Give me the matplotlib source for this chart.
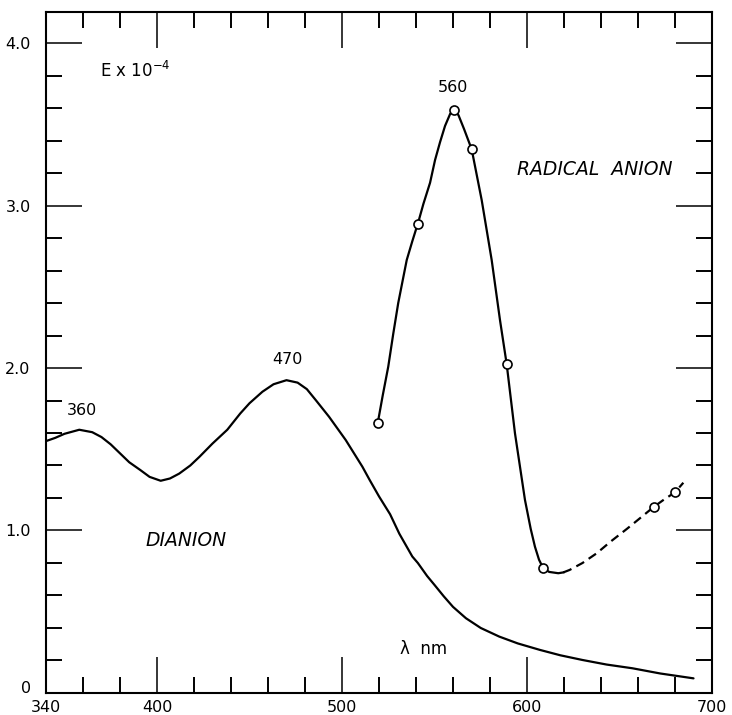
import matplotlib
matplotlib.use("Agg")
import matplotlib.pyplot as plt
from matplotlib.ticker import MultipleLocator, FixedLocator
import matplotlib.transforms as mtransforms

# --- data ---
dianion_nm = [340, 345, 350, 358, 365, 370, 375, 380, 385, 391, 396, 402, 407, 412,
              418, 423, 430, 438, 445, 450, 457, 463, 470, 476, 481, 486, 493, 502,
              511, 515, 520, 526, 531, 538, 541, 546, 550, 555, 560, 567, 575, 585,
              595, 607, 618, 630, 643, 657, 672, 690]
dianion_E = [1.55, 1.57, 1.595, 1.62, 1.605, 1.575, 1.53, 1.475, 1.42, 1.372, 1.33,
             1.306, 1.32, 1.35, 1.40, 1.454, 1.535, 1.62, 1.72, 1.783, 1.854, 1.90,
             1.925, 1.91, 1.87, 1.80, 1.70, 1.557, 1.393, 1.31, 1.21, 1.10, 0.98,
             0.84, 0.80, 0.72, 0.665, 0.595, 0.53, 0.46, 0.40, 0.347, 0.305, 0.265,
             0.232, 0.203, 0.175, 0.152, 0.12, 0.09]

radical_nm = [519.3, 522, 525, 527.7, 530.4, 533, 535, 538, 541.3, 544, 547.6, 550.3,
              553, 555.7, 558.5, 560.8, 563, 566, 570.1, 575.5, 580.9, 585.4, 589,
              593.5, 598.9, 602, 604.3, 606.5, 608.8, 612, 616.9, 619.6]
radical_E = [1.66, 1.83, 2.008, 2.21, 2.40, 2.55, 2.665, 2.78, 2.90, 3.01, 3.14, 3.28,
             3.39, 3.49, 3.565, 3.59, 3.555, 3.47, 3.346, 3.034, 2.665, 2.295, 2.025,
             1.598, 1.188, 1.01, 0.90, 0.82, 0.767, 0.745, 0.737, 0.742]

dashed_nm = [619.6, 623, 630, 637.7, 645, 654, 661, 668.6, 674, 680, 684.5]
dashed_E = [0.742, 0.757, 0.80, 0.86, 0.93, 1.01, 1.075, 1.146, 1.19, 1.235, 1.294]

points_nm = [519.3, 541.3, 560.8, 570.1, 589.0, 608.8, 668.6, 680]
points_E = [1.66, 2.884, 3.59, 3.346, 2.025, 0.767, 1.146, 1.235]

x_ticks = [340, 400, 500, 600, 700]
x_ticklabels = ["340", "400", "500", "600", "700"]
y_ticks = [0, 1, 2, 3, 4]
y_ticklabels = ["0", "1.0", "2.0", "3.0", "4.0"]

# --- figure ---
fig = plt.figure(figsize=(7.32, 7.15), dpi=100)
ax = fig.add_axes([0.0628, 0.0308, 0.9099, 0.9522])

ax.plot(dianion_nm, dianion_E, color="black", lw=1.6, solid_capstyle="round",
        solid_joinstyle="round")
ax.plot(radical_nm, radical_E, color="black", lw=1.6, solid_joinstyle="round")
ax.plot(dashed_nm, dashed_E, color="black", lw=1.6, dashes=(4, 2.5))
ax.plot(points_nm, points_E, linestyle="none", marker="o", ms=6.5,
        mfc="white", mec="black", mew=1.2, zorder=5)

ax.set_xlim(340, 700)
ax.set_ylim(0, 4.19)

ax.xaxis.set_major_locator(FixedLocator(x_ticks))
ax.set_xticklabels(x_ticklabels)
ax.xaxis.set_minor_locator(MultipleLocator(20))
ax.yaxis.set_major_locator(FixedLocator(y_ticks))
ax.set_yticklabels(y_ticklabels)
ax.yaxis.set_minor_locator(MultipleLocator(0.2))

ax.tick_params(which="both", direction="in", top=True, right=True, colors="black")
ax.tick_params(which="major", length=26, width=1.1, labelsize=11.5)
ax.tick_params(which="minor", length=11.5, width=1.4)
ax.tick_params(axis="x", which="major", pad=5)
ax.tick_params(axis="y", which="major", pad=11)
for s in ax.spines.values():
    s.set_linewidth(1.5)

# nudge the "0" label up a little, as in the reference
zero_lbl = ax.get_yticklabels()[0]
zero_lbl.set_transform(zero_lbl.get_transform() +
                       mtransforms.ScaledTranslation(0, 4 / 72, fig.dpi_scale_trans))

# annotations
ax.text(369, 3.83, r"E x 10$^{-4}$", fontsize=12, ha="left", va="center")
ax.text(359.3, 1.74, "360", fontsize=11.5, ha="center", va="center")
ax.text(470.5, 2.05, "470", fontsize=11.5, ha="center", va="center")
ax.text(560.2, 3.727, "560", fontsize=11.5, ha="center", va="center")
ax.text(415.7, 0.94, "DIANION", fontsize=13.5, style="italic", ha="center", va="center")
ax.text(636.8, 3.22, "RADICAL  ANION", fontsize=13.5, style="italic", ha="center", va="center")
ax.text(544.3, 0.269, "λ  nm", fontsize=12, ha="center", va="center")

fig.savefig("out.png", dpi=100)
